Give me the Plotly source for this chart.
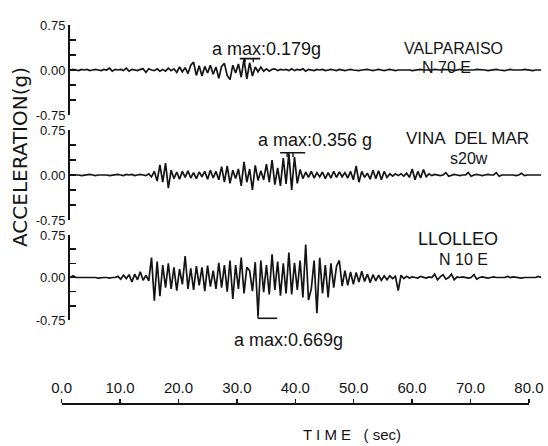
import numpy as np
import plotly.graph_objects as go

# ---------------- data ----------------
stations = ["VALPARAISO", "VINA  DEL MAR", "LLOLLEO"]
components = ["N 70 E", "s20w", "N 10 E"]
amax_labels = ["a max:0.179g", "a max:0.356 g", "a max:0.669g"]

t_start = 1.46      # s, first sample (trace begins at the y axis)
t_step = 0.48       # s, digitising interval used when reading the picture

valparaiso = [
    0.00, 0.01, 0.00, -0.01, 0.01, 0.00, 0.01, -0.01, 0.00, 0.01, 0.00, -0.01, 0.01, 0.00, 0.03, -0.02,
    0.01, 0.00, 0.01, -0.01, 0.03, -0.02, 0.01, 0.00, -0.01, 0.01, 0.02, -0.04, 0.02, 0.00, -0.01, 0.02, -0.02, 0.01, -0.02, 0.03,
    -0.01, 0.02, -0.04, 0.05, -0.03, 0.04, -0.06, 0.08, 0.13, -0.09, 0.07, -0.10, 0.06, -0.05, 0.08, -0.07, 0.05, -0.14, 0.06, 0.11,
    -0.09, -0.16, 0.08, -0.05, 0.10, -0.12, 0.18, -0.15, 0.12, -0.10, 0.05, -0.03, 0.05, -0.02, 0.02, -0.02, 0.01, 0.02, -0.01, 0.01,
    0.00, 0.01, -0.01, 0.02, -0.01, 0.01, 0.00, 0.02, -0.02, 0.01, 0.00, -0.01, 0.01, 0.00, 0.01, -0.01, 0.00, 0.01, 0.00, -0.01,
    0.01, 0.00, -0.01, 0.00, 0.01, 0.00, -0.01, -0.01, 0.00, 0.01, 0.01, 0.00, -0.01, 0.00, 0.01, 0.00, -0.01, 0.00, 0.01, 0.00,
    -0.01, 0.00, 0.00, 0.01, 0.01, 0.00, -0.01, 0.00, 0.01, 0.01, 0.00, 0.00, -0.01, 0.00, 0.01, 0.00, 0.00, 0.01, 0.01, 0.00,
    0.00, -0.01, 0.00, 0.01, 0.00, 0.00, -0.01, -0.01, 0.00, 0.01, 0.01, 0.00, 0.00, -0.01, 0.00, 0.00, 0.01, 0.00, -0.01, -0.01,
    0.00, 0.01, 0.00, 0.00, -0.01, 0.00, 0.01, 0.00, 0.00, -0.01, 0.00, 0.00, 0.00,
]

vina_del_mar = [
    0.00, 0.00, 0.01, 0.00, -0.01, 0.00, 0.01, 0.01, 0.00, -0.01, 0.00, 0.00, 0.01, 0.00, -0.01, 0.00,
    0.00, 0.01, 0.00, -0.01, 0.01, 0.00, 0.01, -0.01, 0.00, 0.01, 0.00, -0.01, 0.02, -0.03, 0.06, -0.10, 0.17, -0.12, 0.20, -0.22,
    0.08, -0.06, 0.05, -0.07, 0.06, -0.04, 0.07, -0.05, 0.04, -0.06, 0.05, -0.03, 0.06, -0.07, 0.08, -0.05, 0.06, -0.08, 0.14, -0.12,
    0.15, -0.14, 0.08, -0.06, 0.10, -0.18, 0.22, -0.12, 0.10, -0.25, 0.16, -0.09, 0.07, -0.08, 0.18, -0.12, 0.25, -0.16, 0.12, -0.18,
    0.28, -0.15, 0.36, -0.25, 0.30, -0.14, 0.09, -0.06, 0.05, -0.04, 0.06, -0.05, 0.04, -0.03, 0.05, -0.06, 0.04, -0.05, 0.06, -0.04,
    0.05, -0.03, 0.04, -0.05, 0.06, -0.08, 0.15, -0.12, 0.06, -0.04, 0.03, -0.07, 0.08, -0.06, 0.07, -0.08, 0.06, -0.04, 0.02, -0.02,
    0.02, -0.01, 0.02, -0.02, 0.03, -0.04, 0.10, -0.08, 0.06, -0.05, 0.09, -0.03, 0.02, -0.01, 0.01, 0.00, -0.01, 0.00, 0.04, -0.02,
    0.00, 0.01, 0.00, -0.01, 0.00, 0.00, 0.04, -0.02, 0.00, 0.01, 0.00, -0.01, 0.00, 0.01, 0.00, 0.00, 0.04, -0.02, 0.00, 0.00,
    0.00, 0.01, 0.00, -0.01, 0.00, 0.03, -0.01, 0.00, 0.00, 0.01, 0.00, 0.00, 0.00,
]

llolleo = [
    0.00, 0.03, 0.00, 0.00, 0.01, 0.00, 0.00, 0.01, 0.00, 0.00, -0.01, 0.00, 0.00, 0.00, -0.01, 0.00,
    0.00, 0.02, -0.03, 0.04, -0.02, 0.05, -0.08, 0.06, -0.04, 0.10, -0.05, 0.04, -0.06, 0.35, -0.41, 0.28, -0.33, 0.22, -0.18, 0.25,
    -0.20, 0.18, -0.23, 0.15, -0.12, 0.38, -0.20, 0.16, -0.22, 0.20, -0.14, 0.18, -0.24, 0.21, -0.16, 0.12, -0.20, 0.26, -0.18, 0.22,
    -0.25, 0.30, -0.38, 0.22, -0.20, 0.35, -0.28, 0.18, 0.12, -0.24, 0.27, -0.67, 0.30, -0.26, 0.22, -0.30, 0.41, -0.22, 0.28, -0.32,
    0.25, -0.28, 0.44, -0.30, 0.26, -0.22, 0.30, -0.35, 0.58, -0.40, -0.20, 0.30, -0.63, 0.35, -0.28, 0.22, -0.35, 0.25, -0.18, 0.20,
    0.30, -0.15, 0.12, -0.14, 0.10, -0.12, 0.09, -0.08, 0.11, -0.07, 0.06, -0.09, 0.05, -0.06, 0.04, -0.05, 0.03, -0.04, 0.03, -0.02,
    0.02, -0.23, 0.04, -0.02, 0.02, -0.01, 0.01, 0.00, -0.01, 0.02, 0.00, -0.01, 0.01, 0.00, 0.06, -0.04, 0.01, 0.05, -0.03, 0.00,
    0.06, -0.04, 0.01, 0.00, 0.01, 0.00, -0.01, 0.00, 0.05, -0.03, 0.00, 0.01, 0.00, -0.01, 0.00, 0.01, 0.00, 0.00, -0.01, 0.00,
    0.02, 0.00, 0.01, 0.00, 0.00, -0.01, 0.00, 0.00, 0.01, 0.00, 0.00, 0.02, 0.00,
]

series = [valparaiso, vina_del_mar, llolleo]

# peak markers (bar over / under the peak), in axis units
amax_bar_t0 = [30.5, 37.4, 33.6]
amax_bar_t1 = [34.0, 41.7, 36.9]
amax_bar_y = [0.19, 0.37, -0.72]
amax_stub_t = [[31.4, 32.8], [38.6, 39.6], [33.6]]
amax_stub_dy = [-0.06, -0.07, 0.08]

time_ticks = [0, 10, 20, 30, 40, 50, 60, 70, 80]
time_ticktext = ["0.0", "10.0", "20.0", "30.0", "40.0", "50.0", "60.0", "70.0", "80.0"]
acc_ticks = [-0.75, 0.0, 0.75]
acc_ticktext = ["-0.75", "0.00", "0.75"]
acc_minor = [-0.5, -0.25, 0.25, 0.5]

# ---------------- layout geometry (pixels of the 548x446 page) ----------------
W, H = 548, 446
def PX(x):
    return x / W
def PY(y):
    return 1 - y / H

x_zero_px, px_per_s = 61.7, 5.84
trace_range = [0, 82.5]
panel_px = [(25, 115), (130, 220), (235, 320)]   # top, bottom of +-0.75 g
yaxis_x_px = 69
time_axis_y_px = 403

FONT = "Liberation Sans, Arial, sans-serif"
INK = "#141414"

fig = go.Figure()
for k, vals in enumerate(series):
    t = t_start + t_step * np.arange(len(vals))
    fig.add_trace(go.Scatter(
        x=t, y=vals, mode="lines",
        line=dict(color=INK, width=1.7),
        xaxis=f"x{'' if k == 0 else k + 1}", yaxis=f"y{'' if k == 0 else k + 1}",
        showlegend=False, hoverinfo="skip"))

# invisible trace carrying the time axis
fig.add_trace(go.Scatter(x=[0, 80], y=[0, 0], mode="markers", marker=dict(opacity=0),
                         xaxis="x4", yaxis="y4", showlegend=False, hoverinfo="skip"))

layout = dict(
    template="none",
    width=W, height=H, autosize=False,
    margin=dict(l=0, r=0, t=0, b=0, pad=0),
    paper_bgcolor="white", plot_bgcolor="white",
    font=dict(family=FONT, color=INK),
    showlegend=False,
)

x_dom = [PX(x_zero_px), PX(x_zero_px + trace_range[1] * px_per_s)]
for k in range(3):
    sfx = "" if k == 0 else str(k + 1)
    top, bot = panel_px[k]
    layout[f"xaxis{sfx}"] = dict(domain=x_dom, range=trace_range, visible=False,
                                 anchor=f"y{sfx}", automargin=False)
    layout[f"yaxis{sfx}"] = dict(
        domain=[PY(bot), PY(top)], range=[-0.75, 0.75], anchor="free",
        position=PX(yaxis_x_px), showline=True, linecolor=INK, linewidth=2,
        ticks="inside", ticklen=6, tickwidth=1.6, tickcolor=INK,
        tickvals=acc_ticks, ticktext=acc_ticktext,
        tickfont=dict(size=13, family=FONT, color=INK),
        minor=dict(tickvals=acc_minor, ticks="inside", ticklen=6, tickwidth=1.6, tickcolor=INK),
        showgrid=False, zeroline=False, automargin=False)

layout["xaxis4"] = dict(
    domain=[PX(x_zero_px), PX(x_zero_px + 80 * px_per_s)], range=[0, 80],
    anchor="free", position=PY(time_axis_y_px), side="top",
    showline=True, linecolor=INK, linewidth=1.6,
    ticks="outside", ticklen=4, tickwidth=1.5, tickcolor=INK,
    tickvals=time_ticks, ticktext=time_ticktext,
    tickfont=dict(size=15, family=FONT, color=INK),
    showgrid=False, zeroline=False, automargin=False)
layout["yaxis4"] = dict(domain=[0, 0.05], range=[-1, 1], visible=False, anchor="x4",
                        automargin=False)

fig.update_layout(**layout)

# peak markers
shapes = []
for k in range(3):
    sfx = "" if k == 0 else str(k + 1)
    shapes.append(dict(type="line", xref=f"x{sfx}", yref=f"y{sfx}",
                       x0=amax_bar_t0[k], x1=amax_bar_t1[k], y0=amax_bar_y[k], y1=amax_bar_y[k],
                       line=dict(color=INK, width=1.6)))
    for ts in amax_stub_t[k]:
        shapes.append(dict(type="line", xref=f"x{sfx}", yref=f"y{sfx}",
                           x0=ts, x1=ts, y0=amax_bar_y[k], y1=amax_bar_y[k] + amax_stub_dy[k],
                           line=dict(color=INK, width=1.4)))
fig.update_layout(shapes=shapes)

# text
def note(text, x, y, size, family=FONT, angle=0, yanchor="middle"):
    fig.add_annotation(text=text, x=PX(x), y=PY(y), xref="paper", yref="paper",
                       showarrow=False, xanchor="center", yanchor=yanchor,
                       textangle=angle, borderpad=0,
                       font=dict(size=size, family=family, color=INK))

note(amax_labels[0], 266, 49, 18)
note(stations[0], 453, 58, 16, yanchor="bottom")
note(components[0], 446, 58, 16, yanchor="top")
note(amax_labels[1], 315, 140, 18)
note(stations[1], 467, 149, 17, yanchor="bottom")
note(components[1], 469, 149, 16, yanchor="top")
note(stations[2], 458, 250, 18, yanchor="bottom")
note(components[2], 463, 250, 16, yanchor="top")
note(amax_labels[2], 288, 340, 18)
note("T I M E   ( sec)", 352, 434, 15)
note("ACCELERATION(g)", 20, 157, 20, family="DejaVu Sans, sans-serif", angle=-90)

fig.write_html(
    "out.html",
    config={"displayModeBar": False, "staticPlot": True},
    post_script="document.body.style.margin='0';document.body.style.padding='0';"
                "document.documentElement.style.overflow='hidden';",
)
